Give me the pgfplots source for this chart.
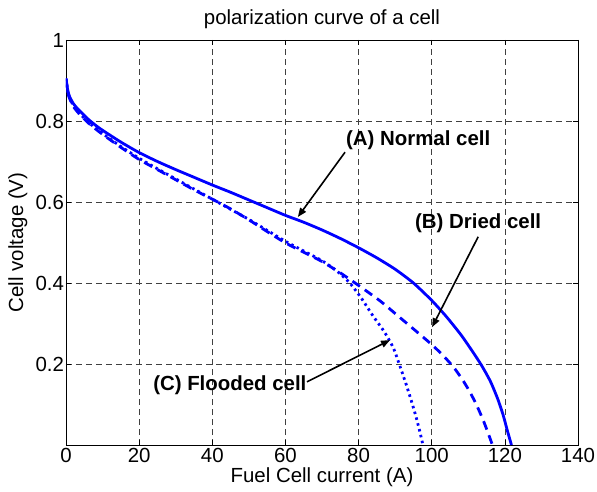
\documentclass[border=0pt]{standalone}
\usepackage{fontspec}
\setmainfont{Liberation Sans}
\usepackage{pgfplots}
\pgfplotsset{compat=1.18}
\usetikzlibrary{arrows.meta}
\newcommand{\fnt}{\fontsize{20.5}{22}\selectfont}
\begin{document}
\begin{tikzpicture}
\path[use as bounding box] (-66bp,-47bp) rectangle (531bp,445bp);
\begin{axis}[
  at={(0,0)}, anchor=south west,
  scale only axis, width=512bp, height=405bp,
  xmin=0, xmax=140, ymin=0, ymax=1,
  xtick={0,20,...,140},
  ytick={0.2,0.4,0.6,0.8,1},
  yticklabels={0.2,0.4,0.6,0.8,1},
  tick align=inside, major tick length=5bp,
  tick style={black, line width=0.6bp},
  grid=major,
  major grid style={black!75, dash pattern=on 6bp off 4bp, line width=0.6bp},
  axis line style={line width=0.8bp},
  /pgf/number format/assume math mode=true,
  tick label style={font=\fnt},
  yticklabel style={xshift=1.5bp},
  label style={font=\fnt},
  title style={font=\fnt, at={(axis description cs:0.5,1.037)}, anchor=center},
  xlabel style={at={(axis description cs:0.5,-0.079)}, anchor=center},
  ylabel style={at={(axis description cs:-0.094,0.5)}, anchor=center},
  title={polarization curve of a cell},
  xlabel={Fuel Cell current (A)},
  ylabel={Cell voltage (V)},
]
% (A) normal cell
\addplot[blue, line width=2.8bp, smooth, tension=0.4] coordinates {
(0,0.905)(0.5,0.875)(1,0.86)(2,0.843)(3,0.832)(4,0.823)(6,0.805)(8,0.79)(10,0.777)
(15,0.748)(20,0.722)(25,0.70)(30,0.68)(35,0.661)(40,0.642)(45,0.624)(50,0.605)
(55,0.586)(60,0.567)(65,0.55)(70,0.531)(75,0.51)(80,0.487)(85,0.462)(90,0.434)
(95,0.400)(100,0.357)(104,0.317)(108,0.272)(111,0.233)(113.6,0.197)(116,0.158)
(118,0.115)(119.5,0.075)(120.7,0.035)(121.8,0)
};
% (B) dried cell
\addplot[blue, line width=2.8bp, dash pattern=on 9bp off 6bp, smooth, tension=0.4] coordinates {
(0,0.905)(0.5,0.87)(1,0.855)(2,0.836)(3,0.824)(4,0.814)(6,0.796)(8,0.781)(10,0.767)
(15,0.735)(20,0.705)(25,0.68)(30,0.655)(35,0.63)(40,0.607)(45,0.583)(50,0.556)
(55,0.527)(60,0.499)(65,0.476)(70,0.453)(75,0.425)(80,0.394)(86,0.355)(91,0.317)
(96,0.279)(100,0.248)(103,0.222)(106,0.192)(108.5,0.16)(110.5,0.13)(112.3,0.098)
(114,0.063)(115.4,0.03)(116.6,0)
};
% (C) flooded cell
\addplot[blue, line width=2.8bp, dash pattern=on 2.5bp off 3.5bp, smooth, tension=0.4] coordinates {
(0,0.905)(0.5,0.872)(1,0.857)(2,0.838)(3,0.826)(4,0.816)(6,0.798)(8,0.783)(10,0.769)
(15,0.737)(20,0.708)(25,0.682)(30,0.657)(35,0.632)(40,0.607)(45,0.582)(50,0.557)
(55,0.53)(60,0.503)(65,0.479)(70,0.455)(74,0.43)(77.6,0.4)(80.8,0.362)(84,0.318)
(87,0.28)(89.5,0.24)(91.3,0.195)(93,0.15)(94.4,0.11)(95.7,0.07)
(96.7,0.035)(97.6,0)
};
\node[font=\bfseries\fnt] at (axis cs:96.3,0.753) {(A) Normal cell};
\draw[-{Triangle[length=9bp,width=7bp]}, line width=1.6bp] (axis cs:76.3,0.723) -- (axis cs:63.4,0.563);
\node[font=\bfseries\fnt] at (axis cs:112.7,0.548) {(B) Dried cell};
\draw[-{Triangle[length=9bp,width=7bp]}, line width=1.6bp] (axis cs:112.7,0.514) -- (axis cs:100.1,0.291);
\node[font=\bfseries\fnt] at (axis cs:44.8,0.148) {(C) Flooded cell};
\draw[-{Triangle[length=9bp,width=7bp]}, line width=1.6bp] (axis cs:65.9,0.156) -- (axis cs:88.6,0.259);
\end{axis}
\end{tikzpicture}
\end{document}
